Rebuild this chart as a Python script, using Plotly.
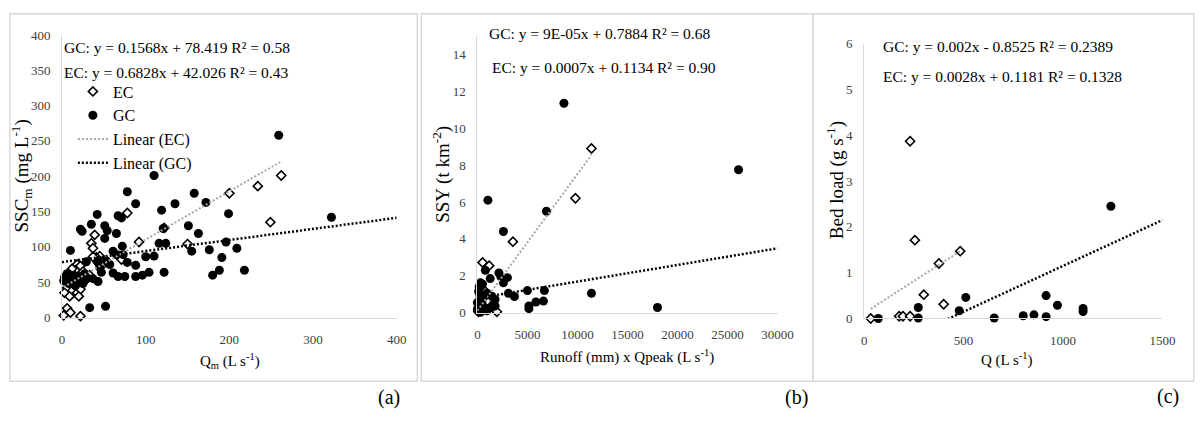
import plotly.graph_objects as go

# ---------------- DATA ----------------
# Panel (a): SSCm vs Qm
a_gc_x = [110, 78, 88, 135, 172, 158, 199, 119, 151, 163, 42, 67, 71, 35, 51, 54, 22, 24, 65, 121,
          116, 124, 155, 176, 196, 209, 191, 188, 180, 218, 51, 10, 72, 100, 110, 61, 65, 73, 78, 88,
          53, 43, 47, 45, 61, 67, 75, 88, 96, 104, 122, 37, 43, 3, 6, 10, 14, 18, 22, 27,
          30, 33, 52, 29, 2, 8, 16, 25, 57, 259, 322]
a_gc_y = [201, 178, 161, 161, 163, 176, 147, 152, 130, 119, 146, 144, 141, 132, 130, 123, 125, 122, 119, 126,
          105, 105, 94, 96, 107, 98, 85, 67, 60, 67, 112, 95, 101, 86, 87, 94, 89, 89, 78, 74,
          80, 78, 64, 71, 63, 58, 58, 58, 60, 64, 64, 55, 51, 57, 62, 55, 60, 52, 58, 62,
          56, 14, 16, 79, 52, 48, 45, 48, 75, 258, 142]
a_ec_x = [84, 262, 234, 200, 249, 78, 150, 122, 92, 39, 35, 37, 45, 41, 37, 47, 43, 69, 71, 18,
          22, 16, 12, 8, 5, 10, 14, 6, 12, 18, 22, 3, 9, 20, 6, 10, 2, 22, 26, 30,
          16, 25, 33]
a_ec_y = [401, 201, 186, 176, 135, 148, 104, 127, 107, 117, 105, 98, 87, 85, 86, 73, 78, 87, 82, 75,
          73, 67, 69, 62, 55, 50, 47, 42, 38, 35, 40, 35, 30, 30, 13, 7, 3, 2, 58, 55,
          57, 65, 60]

# Panel (b): SSY vs Runoff x Qpeak
b_gc_x = [8650, 26100, 1050, 6900, 2600, 2150, 2350, 3000, 2600, 3100, 3700, 5000, 6700, 6600, 5850,
          5150, 5150, 800, 1280, 11400, 18000, 300, 520, 180, 120, 250, 520, 950, 1440, 1770,
          1600, 950, 300, 0, 0, 460, 620, 1280, 1770]
b_gc_y = [11.35, 7.75, 6.1, 5.5, 4.4, 2.15, 1.95, 1.9, 1.62, 1.05, 0.88, 1.2, 1.2, 0.63, 0.58,
          0.37, 0.22, 2.3, 1.85, 1.05, 0.28, 1.62, 1.55, 1.41, 1.15, 0.92, 0.89, 1.06, 0.89, 0.72,
          0.46, 0.1, 0.02, 0.19, 0.55, 0.54, 0.28, 0.28, 0.37]
b_ec_x = [11400, 9800, 3550, 520, 1180, 790, 1950, 150, 350, 600, 100, 250, 450]
b_ec_y = [8.9, 6.2, 3.85, 2.72, 2.55, 1.15, 0.05, 0.3, 0.5, 0.8, 0.05, 0.15, 0.25]

# Panel (c): Bed load vs Q
c_gc_x = [71, 272, 272, 478, 511, 654, 1241, 915, 972, 1101, 1101, 800, 854, 915]
c_gc_y = [0.0, 0.24, 0.01, 0.17, 0.46, 0.01, 2.45, 0.5, 0.29, 0.22, 0.15, 0.06, 0.08, 0.04]
c_ec_x = [231, 255, 483, 376, 300, 400, 33, 176, 195, 231]
c_ec_y = [3.87, 1.71, 1.47, 1.2, 0.52, 0.31, 0.0, 0.05, 0.05, 0.05]

# Linear trend lines: slope, intercept, x extent
trend_a_gc = [0.1568, 78.419]
trend_a_ec = [0.6828, 42.026]
trend_b_gc = [0.00009, 0.7884]
trend_b_ec = [0.00074, 0.1134]
trend_c_gc = [0.002, -0.8525]
trend_c_ec = [0.0028, 0.1181]
span_a_gc = [0, 400]
span_a_ec = [2, 262]
span_b_gc = [0, 30000]
span_b_ec = [0, 11400]
span_c_gc = [0, 1500]
span_c_ec = [33, 483]

eq_a = ["GC: y = 0.1568x + 78.419 R² = 0.58", "EC: y = 0.6828x + 42.026 R² = 0.43"]
eq_b = ["GC: y = 9E-05x + 0.7884 R² = 0.68", "EC: y = 0.0007x + 0.1134 R² = 0.90"]
eq_c = ["GC: y = 0.002x - 0.8525 R² = 0.2389", "EC: y = 0.0028x + 0.1181 R² = 0.1328"]

# ---------------- LAYOUT HELPERS ----------------
W, H = 1203, 421
FONT = "Liberation Serif"


def fx(p):
    return p / W


def fy(p):
    return 1 - p / H


def line_pts(coef, span):
    return span, [coef[0] * v + coef[1] for v in span]


fig = go.Figure()

panels = [
    ("x", "y", a_ec_x, a_ec_y, a_gc_x, a_gc_y, trend_a_ec, span_a_ec, trend_a_gc, span_a_gc, True),
    ("x2", "y2", b_ec_x, b_ec_y, b_gc_x, b_gc_y, trend_b_ec, span_b_ec, trend_b_gc, span_b_gc, False),
    ("x3", "y3", c_ec_x, c_ec_y, c_gc_x, c_gc_y, trend_c_ec, span_c_ec, trend_c_gc, span_c_gc, False),
]

ec_marker = dict(symbol="diamond", size=7, color="white", line=dict(color="black", width=1.6))
gc_marker = dict(symbol="circle", size=9, color="black", line=dict(width=0))

for xa, ya, ecx, ecy, gcx, gcy, tec, sec, tgc, sgc, leg in panels:
    fig.add_trace(go.Scatter(x=ecx, y=ecy, mode="markers", marker=ec_marker, name="EC",
                             xaxis=xa, yaxis=ya, showlegend=leg, cliponaxis=False))
    fig.add_trace(go.Scatter(x=gcx, y=gcy, mode="markers", marker=gc_marker, name="GC",
                             xaxis=xa, yaxis=ya, showlegend=leg, cliponaxis=False))
    lx, ly = line_pts(tec, sec)
    fig.add_trace(go.Scatter(x=lx, y=ly, mode="lines", name="Linear (EC)",
                             line=dict(color="#a6a6a6", width=2, dash="2px,2px"),
                             xaxis=xa, yaxis=ya, showlegend=leg))
    lx, ly = line_pts(tgc, sgc)
    fig.add_trace(go.Scatter(x=lx, y=ly, mode="lines", name="Linear (GC)",
                             line=dict(color="black", width=2.5, dash="2px,2px"),
                             xaxis=xa, yaxis=ya, showlegend=leg))

axis_common = dict(showgrid=False, zeroline=False, showline=True, linecolor="#d9d9d9", linewidth=1,
                   ticks="", tickfont=dict(family=FONT, size=13, color="#404040"))

fig.update_layout(
    width=W, height=H,
    margin=dict(l=0, r=0, t=0, b=0),
    paper_bgcolor="white", plot_bgcolor="white",
    font=dict(family=FONT, color="black"),
    xaxis=dict(domain=[fx(60), fx(400)], range=[0, 400], dtick=100, anchor="y",
               ticklabelstandoff=10, **axis_common),
    yaxis=dict(domain=[fy(322), fy(29)], range=[0, 400], dtick=50, anchor="x",
               ticklabelstandoff=8, **axis_common),
    xaxis2=dict(domain=[fx(482), fx(787)], range=[0, 30000], dtick=5000, tickformat="d", anchor="y2",
                ticklabelstandoff=10, **axis_common),
    yaxis2=dict(domain=[fy(317), fy(30)], range=[0, 15], tickvals=[0, 2, 4, 6, 8, 10, 12, 14], anchor="x2",
                ticklabelstandoff=8, **axis_common),
    xaxis3=dict(domain=[fx(875), fx(1178)], range=[0, 1500], dtick=500, anchor="y3",
                ticklabelstandoff=10, **axis_common),
    yaxis3=dict(domain=[fy(323), fy(38)], range=[0, 6], dtick=1, anchor="x3",
                ticklabelstandoff=8, **axis_common),
    legend=dict(x=fx(71), y=fy(70), xanchor="left", yanchor="top", bgcolor="rgba(0,0,0,0)",
                font=dict(family=FONT, size=16, color="black"), traceorder="normal"),
    showlegend=True,
)

# Panel borders
border = dict(color="#d9d9d9", width=1.5)
for x0, x1 in [(7, 421), (425, 823), (823, 1210)]:
    fig.add_shape(type="rect", xref="paper", yref="paper", x0=fx(x0), x1=fx(x1), y0=fy(388), y1=fy(7),
                  line=border, fillcolor="rgba(0,0,0,0)", layer="below")

ann = []
eq_font = dict(family=FONT, size=15.5, color="black")
for (txt, x, y) in [(eq_a[0], 60, 42), (eq_a[1], 60, 68),
                    (eq_b[0], 492, 27), (eq_b[1], 495, 63),
                    (eq_c[0], 892, 41), (eq_c[1], 892, 72)]:
    ann.append(dict(text=txt, x=fx(x), y=fy(y), xref="paper", yref="paper", xanchor="left",
                    yanchor="middle", showarrow=False, font=eq_font))

title_font = dict(family=FONT, size=15, color="black")
for (txt, x, y) in [("Q<sub>m</sub> (L s<sup>-1</sup>)", 231, 367),
                    ("Runoff (mm) x Qpeak (L s<sup>-1</sup>)", 634, 362),
                    ("Q (L s<sup>-1</sup>)", 1020, 366)]:
    ann.append(dict(text=txt, x=fx(x), y=fy(y), xref="paper", yref="paper", xanchor="center",
                    yanchor="middle", showarrow=False, font=title_font))
vtitle_font = dict(family=FONT, size=19, color="black")
for (txt, x, y) in [("SSC<sub>m</sub> (mg L<sup>-1</sup>)", 19, 175),
                    ("SSY (t km<sup>-2</sup>)", 446, 173),
                    ("Bed load (g s<sup>-1</sup>)", 846, 180)]:
    ann.append(dict(text=txt, x=fx(x), y=fy(y), xref="paper", yref="paper", xanchor="center",
                    yanchor="middle", showarrow=False, font=vtitle_font, textangle=-90))
for (txt, x, y) in [("(a)", 392, 405), ("(b)", 806, 405), ("(c)", 1184, 404)]:
    ann.append(dict(text=txt, x=fx(x), y=fy(y), xref="paper", yref="paper", xanchor="center",
                    yanchor="middle", showarrow=False, font=dict(family=FONT, size=20, color="black")))
fig.update_layout(annotations=ann)

fig.write_html("out.html")
